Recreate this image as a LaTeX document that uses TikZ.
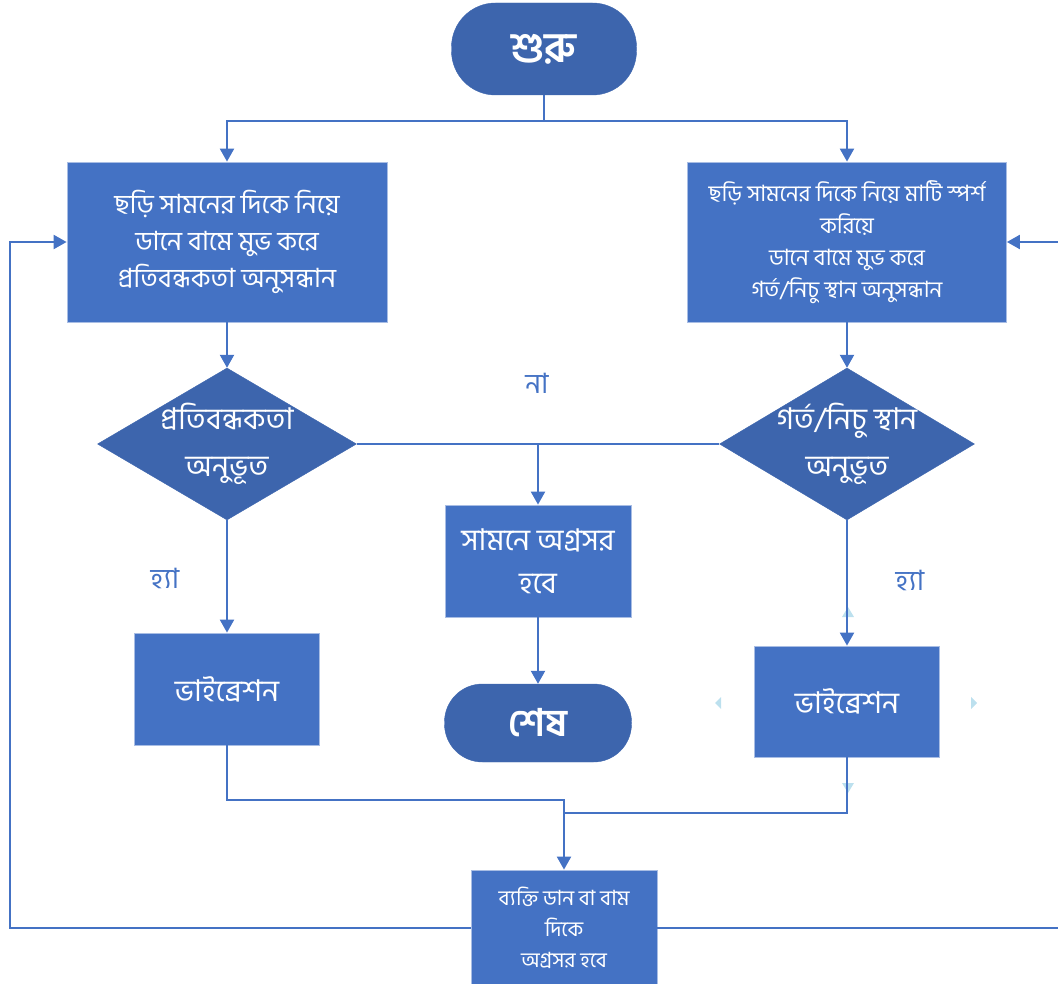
\documentclass[tikz,border=0pt]{standalone}
\usepackage{fontspec}
\newfontfamily\bn[Script=Bengali]{Hind Siliguri}
\usetikzlibrary{arrows.meta,shapes.geometric}
\definecolor{boxblue}{HTML}{4472C4}
\definecolor{darkblue}{HTML}{3D65AD}
\definecolor{edgeblue}{HTML}{A8BDE4}
\definecolor{handle}{HTML}{BCE0EE}
\tikzset{
  procbox/.style={rectangle, fill=boxblue, draw=edgeblue, line width=0.8pt, text=white, align=center, inner sep=0pt, font=\bn},
  termbox/.style={rectangle, rounded corners=44pt, fill=darkblue, draw=darkblue, text=white, align=center, inner sep=0pt, font=\bn\bfseries},
  decbox/.style={diamond, fill=darkblue, draw=darkblue, inner sep=0pt},
  dectext/.style={text=white, align=center, inner sep=0pt, font=\bn},
  conn/.style={draw=boxblue, line width=2.2pt},
  arr/.style={conn, -{Triangle[length=13pt,width=14pt]}},
  lbl/.style={text=boxblue, font=\bn\fontsize{28}{30}\selectfont, inner sep=0pt}
}
\begin{document}
\begin{tikzpicture}[x=1pt,y=-1pt]
\useasboundingbox (0,0) rectangle (1058,984);
% selection handles
\fill[handle] (842,617) -- (854,617) -- (848,607) -- cycle;
\fill[handle] (721,697) -- (721,709) -- (715,703) -- cycle;
\fill[handle] (971,697) -- (971,709) -- (977,703) -- cycle;
\fill[handle] (842,783) -- (854,783) -- (848,793) -- cycle;

\node[termbox, minimum width=185pt, minimum height=92pt, font=\bn\bfseries\fontsize{42}{46}\selectfont] (start) at (544,49) {শুরু};
\node[procbox, minimum width=320pt, minimum height=160pt, font=\bn\fontsize{26.5}{37}\selectfont] (boxL) at (227,242) {ছড়ি সামনের দিকে নিয়ে\\ডানে বামে মুভ করে\\প্রতিবন্ধকতা অনুসন্ধান};
\node[procbox, minimum width=319pt, minimum height=160pt, font=\bn\fontsize{22.5}{32}\selectfont] (boxR) at (847,242) {ছড়ি সামনের দিকে নিয়ে মাটি স্পর্শ\\করিয়ে\\ডানে বামে মুভ করে\\গর্ত/নিচু স্থান অনুসন্ধান};
\node[decbox, minimum width=259pt, minimum height=152pt] (dL) at (227,444) {};
\node[dectext, font=\bn\fontsize{30}{47}\selectfont] (dLt) at (227,444) {প্রতিবন্ধকতা\\অনুভূত};
\node[decbox, minimum width=255pt, minimum height=152pt] (dR) at (847,444) {};
\node[dectext, font=\bn\fontsize{30}{47}\selectfont] (dRt) at (847,444) {গর্ত/নিচু স্থান\\অনুভূত};
\node[procbox, minimum width=186pt, minimum height=112pt, font=\bn\fontsize{30}{43}\selectfont] (mid) at (538,561) {সামনে অগ্রসর\\হবে};
\node[termbox, minimum width=187pt, minimum height=78pt, rounded corners=38pt, font=\bn\bfseries\fontsize{38}{42}\selectfont] (fin) at (538,723) {শেষ};
\node[procbox, minimum width=185pt, minimum height=112pt, font=\bn\fontsize{30}{34}\selectfont] (vibL) at (227,689) {ভাইব্রেশন};
\node[procbox, minimum width=185pt, minimum height=111pt, font=\bn\fontsize{30}{34}\selectfont] (vibR) at (847,701.5) {ভাইব্রেশন};
\node[procbox, minimum width=186pt, minimum height=116pt, font=\bn\fontsize{21}{31}\selectfont] (bot) at (564,928) {ব্যক্তি ডান বা বাম\\দিকে\\অগ্রসর হবে};

\node[lbl] (no) at (537,383) {না};
\node[lbl] (yesL) at (165,578) {হ্যা};
\node[lbl] (yesR) at (910,580) {হ্যা};

\coordinate (j1) at (544,121);
\coordinate (jb) at (564,800);
\coordinate (jr) at (564,813);
\coordinate (cl) at (10,928);
\coordinate (cr) at (1066,928);

\draw[conn] (start.south) -- (j1);
\draw[arr] (j1) -| (boxL.north);
\draw[arr] (j1) -| (boxR.north);
\draw[arr] (boxL.south) -- (dL.north);
\draw[arr] (boxR.south) -- (dR.north);
\draw[conn] (dL.east) -- (dR.west);
\draw[arr] (dL.east -| mid.north) -- (mid.north);
\draw[arr] (mid.south) -- (fin.north);
\draw[arr] (dL.south) -- (vibL.north);
\draw[arr] (dR.south) -- (vibR.north);
\draw[arr] (vibL.south) |- (jb) -- (bot.north);
\draw[conn] (vibR.south) |- (jr);
\draw[arr] (bot.west) -- (cl) |- (boxL.west);
\draw[arr] (bot.east) -- (cr) |- (boxR.east);
\end{tikzpicture}
\end{document}
